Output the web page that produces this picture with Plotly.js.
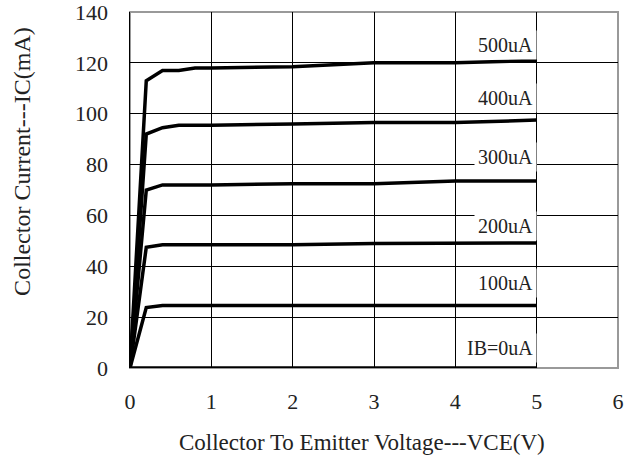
<!DOCTYPE html>
<html>
<head>
<meta charset="utf-8">
<script src="https://cdn.plot.ly/plotly-3.0.1.min.js"></script>
<style>html,body{margin:0;padding:0;background:#fff}#chart{width:625px;height:463px}</style>
</head>
<body>
<div id="chart"></div>
<script>
// Collector-emitter voltage (V)
const vce = [0, 0.2, 0.4, 0.6, 0.8, 1, 2, 3, 4, 5];
// Collector current (mA) for each base current
const ic500 = [0, 113, 117, 117, 118, 118, 118.5, 120, 120, 121];
const ic400 = [0, 92, 94.5, 95.5, 95.5, 95.5, 96, 96.5, 96.5, 97.5];
const ic300 = [0, 70, 72, 72, 72, 72, 72.5, 72.5, 73.5, 73.5];
const ic200 = [0, 47.5, 48.5, 48.5, 48.5, 48.5, 48.5, 49, 49, 49.2];
const ic100 = [0, 23.8, 24.6, 24.6, 24.6, 24.6, 24.6, 24.6, 24.6, 24.6];
const ic0   = [0, 0, 0, 0, 0, 0, 0, 0, 0, 0];
const seriesNames = ["500uA", "400uA", "300uA", "200uA", "100uA", "IB=0uA"];
const labelY = [127, 106, 83, 56, 33.5, 8];
const xTitle = "Collector To Emitter Voltage---VCE(V)";
const yTitle = "Collector Current---IC(mA)";

const allSeries = [ic500, ic400, ic300, ic200, ic100, ic0];
const font = "Liberation Serif, Times New Roman, serif";

const traces = allSeries.map((ys, i) => ({
  x: vce, y: ys, type: "scatter", mode: "lines", name: seriesNames[i],
  line: {color: "#000", width: 3.5}, hoverinfo: "skip"
}));

const annotations = seriesNames.map((n, i) => ({
  x: 5, y: labelY[i], xref: "x", yref: "y", text: n, showarrow: false,
  xanchor: "right", yanchor: "middle", bgcolor: "#fff", borderpad: 3,
  font: {family: font, size: 20, color: "#222"}
}));
annotations.push({
  x: 0.475, y: -0.208, xref: "paper", yref: "paper", text: xTitle, showarrow: false,
  xanchor: "center", yanchor: "middle", font: {family: font, size: 23, color: "#222"}
});
annotations.push({
  x: -0.2213, y: 0.579, xref: "paper", yref: "paper", text: yTitle, showarrow: false,
  textangle: -90, xanchor: "center", yanchor: "middle", font: {family: font, size: 24, color: "#222"}
});

const layout = {
  width: 625, height: 463,
  margin: {l: 130, r: 7, t: 12, b: 95},
  paper_bgcolor: "#fff", plot_bgcolor: "#fff",
  showlegend: false,
  font: {family: font, size: 22, color: "#222"},
  xaxis: {
    range: [0, 6], tickvals: [0,1,2,3,4,5,6], ticks: "", showgrid: true,
    gridcolor: "#000", gridwidth: 1, zeroline: false, showline: false,
    ticklabelstandoff: 18, ticklabeloverflow: "allow",
    tickfont: {family: font, size: 22, color: "#222"}
  },
  yaxis: {
    range: [0, 140], tickvals: [0,20,40,60,80,100,120,140], ticks: "", showgrid: true,
    gridcolor: "#000", gridwidth: 1, zeroline: false, showline: true, linecolor: "#000", linewidth: 1.5,
    ticklabelstandoff: 16, ticklabeloverflow: "allow",
    tickfont: {family: font, size: 22, color: "#222"}
  },
  shapes: [{type: "rect", xref: "paper", yref: "paper", x0: 0, x1: 1, y0: 0, y1: 1,
    line: {color: "#999", width: 2}, layer: "below"}],
  annotations: annotations
};

Plotly.newPlot("chart", traces, layout, {displayModeBar: false, staticPlot: true});
</script>
</body>
</html>
